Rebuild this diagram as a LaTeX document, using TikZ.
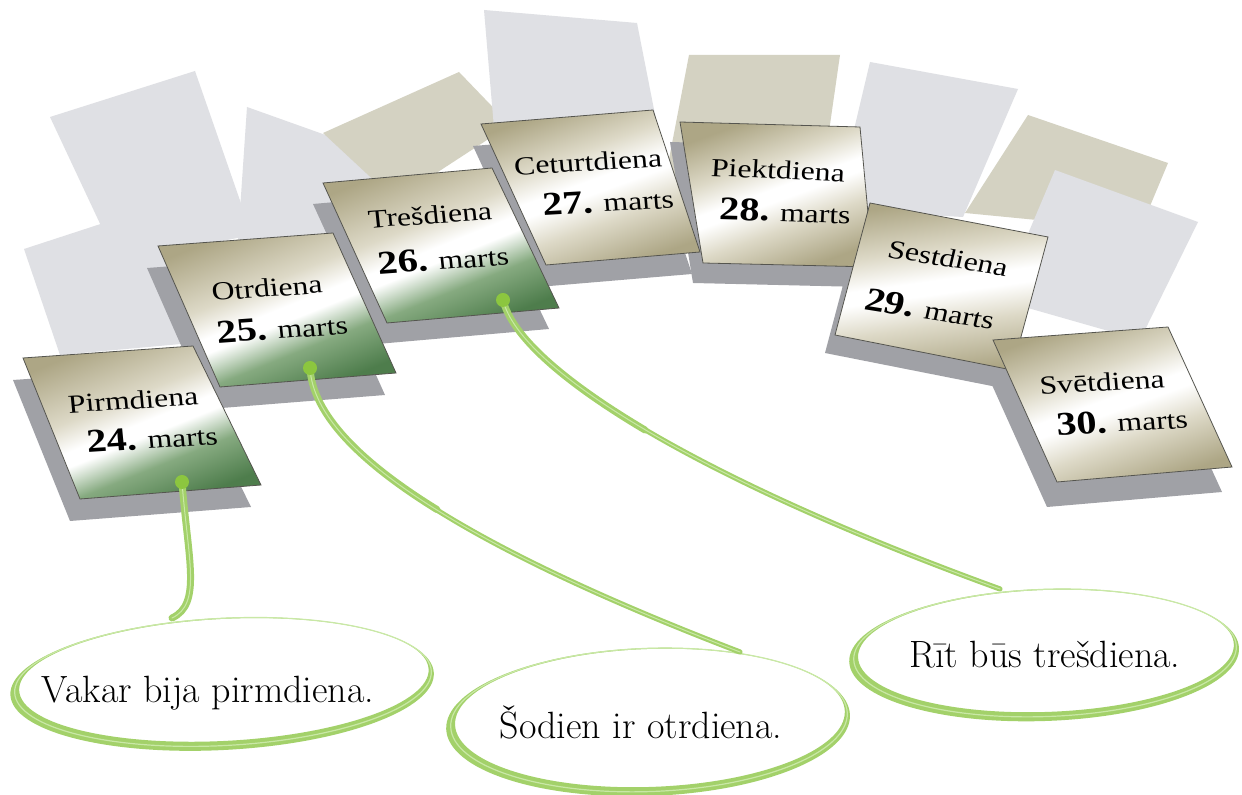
\documentclass[tikz,border=0pt]{standalone}
\usepackage{fontspec}
\newfontfamily\cardfont{Liberation Serif}
\definecolor{bggray}{HTML}{DFE0E4}
\definecolor{bgkhaki}{HTML}{D4D2C2}
\definecolor{shadowgray}{HTML}{A0A1A6}
\definecolor{khk}{HTML}{ADA685}
\definecolor{khklight}{HTML}{DDD9C7}
\definecolor{gdark}{HTML}{4E7D4C}
\definecolor{gmid}{HTML}{86AA80}
\definecolor{cedge}{HTML}{55554F}
\definecolor{lgreen}{HTML}{A3D16A}
\definecolor{lgreenhi}{HTML}{C9E8A6}
\definecolor{dotgreen}{HTML}{8CC63F}
\pgfdeclareverticalshading{greencard}{100bp}{color(0bp)=(gdark); color(25bp)=(gdark); color(37bp)=(gmid); color(46bp)=(white); color(50bp)=(white); color(58bp)=(khklight); color(75bp)=(khk); color(100bp)=(khk)}
\pgfdeclareverticalshading{khakicard}{100bp}{color(0bp)=(khk); color(25bp)=(khk); color(39bp)=(khklight); color(48bp)=(white); color(52bp)=(white); color(61bp)=(khklight); color(75bp)=(khk); color(100bp)=(khk)}
\newcommand\dnum[1]{{\bfseries\fontsize{16.5}{18}\selectfont #1}}
\begin{document}
\begin{tikzpicture}[x=0.5pt,y=-0.5pt,
  bgg/.style={fill=bggray},
  bgk/.style={fill=bgkhaki},
  shadowbox/.style={fill=shadowgray},
  gcard/.style={shading=greencard, shading angle=22, draw=cedge, line width=0.4pt},
  kcard/.style={shading=khakicard, shading angle=20, draw=cedge, line width=0.4pt},
  dayname/.style={font=\cardfont\fontsize{13}{14}\selectfont, inner sep=0pt, xscale=1.22},
  datetext/.style={font=\cardfont\fontsize{13}{14}\selectfont, inner sep=0pt, xscale=1.22},
  conn/.style={draw=lgreen, line width=2.6pt, line cap=round},
  connthick/.style={draw=lgreen, line width=3.5pt, line cap=round},
  connhi/.style={draw=lgreenhi, line width=0.5pt, line cap=round},
  ringfill/.style={fill=lgreen, even odd rule},
  ringhi/.style={draw=lgreenhi, line width=0.6pt},
  etext/.style={font=\fontsize{19}{22}\selectfont, inner sep=0pt},
  dotnode/.style={circle, fill=dotgreen, minimum size=7pt, inner sep=0pt}
]
\useasboundingbox (0,0) rectangle (1242,795);
\fill[white] (0,0) rectangle (1242,795);

% background sheets
\path[bgg] (50,117) -- (195,71) -- (252,235) -- (118,262) -- cycle;
\path[bgg] (24,249) -- (168,202) -- (225,340) -- (60,355) -- cycle;
\path[bgg] (247,107) -- (390,158) -- (395,240) -- (238,240) -- cycle;
\path[bgk] (323,133) -- (459,72) -- (510,125) -- (395,200) -- cycle;
\path[bgg] (484,10) -- (637,23) -- (660,140) -- (495,140) -- cycle;
\path[bgk] (689,55) -- (840,55) -- (822,180) -- (665,180) -- cycle;
\path[bgg] (870,62) -- (1018,89) -- (963,217) -- (835,210) -- cycle;
\path[bgk] (1028,115) -- (1168,163) -- (1140,230) -- (965,213) -- cycle;
\path[bgg] (1055,170) -- (1198,222) -- (1140,340) -- (1000,300) -- cycle;

% shadows
\path[shadowbox, shift={(-10,22)}] (23,358) -- (193,346) -- (261,485) -- (80,499) -- cycle;
\path[shadowbox, shift={(-11,22)}] (158,246) -- (333,233) -- (396,373) -- (220,387) -- cycle;
\path[shadowbox, shift={(-10,21)}] (323,183) -- (492,168) -- (559,308) -- (387,323) -- cycle;
\path[shadowbox, shift={(-8,22)}] (481,124) -- (653,110) -- (700,252) -- (546,265) -- cycle;
\path[shadowbox, shift={(-10,20)}] (680,122) -- (860,127) -- (873,267) -- (703,263) -- cycle;
\path[shadowbox, shift={(-10,18)}] (870,203) -- (1048,237) -- (1012,370) -- (835,335) -- cycle;
\path[shadowbox, shift={(-10,25)}] (993,340) -- (1168,327) -- (1232,467) -- (1057,482) -- cycle;

% cards
\path[gcard] (23,358) -- (193,346) -- (261,485) -- (80,499) -- cycle;
\path[gcard] (158,246) -- (333,233) -- (396,373) -- (220,387) -- cycle;
\path[gcard] (323,183) -- (492,168) -- (559,308) -- (387,323) -- cycle;
\path[kcard] (481,124) -- (653,110) -- (700,252) -- (546,265) -- cycle;
\path[kcard] (680,122) -- (860,127) -- (873,267) -- (703,263) -- cycle;
\path[kcard, shading angle=8] (870,203) -- (1048,237) -- (1012,370) -- (835,335) -- cycle;
\path[kcard] (993,340) -- (1168,327) -- (1232,467) -- (1057,482) -- cycle;

% card texts
\node[dayname, rotate=4.5] (d1) at (133,400) {Pirmdiena};
\node[datetext, rotate=4.5] (m1) at (152,438) {\dnum{24.} marts};
\node[dayname, rotate=5] (d2) at (267,288) {Otrdiena};
\node[datetext, rotate=5] (m2) at (282,328) {\dnum{25.} marts};
\node[dayname, rotate=5] (d3) at (430,215) {Trešdiena};
\node[datetext, rotate=5] (m3) at (443,259) {\dnum{26.} marts};
\node[dayname, rotate=4] (d4) at (588,162) {Ceturtdiena};
\node[datetext, rotate=4] (m4) at (608,201) {\dnum{27.} marts};
\node[dayname, rotate=-3] (d5) at (778,170) {Piektdiena};
\node[datetext, rotate=-2] (m5) at (785,211) {\dnum{28.} marts};
\node[dayname, rotate=-11] (d6) at (948,258) {Sestdiena};
\node[datetext, rotate=-11] (m6) at (930,309) {\dnum{29.} marts};
\node[dayname, rotate=4] (d7) at (1102,382) {Svētdiena};
\node[datetext, rotate=4] (m7) at (1122,421) {\dnum{30.} marts};

% speech ellipses (rings)
\begin{scope}[rotate around={3:(222,682)}]
\path[ringfill] (222,684) ellipse [x radius=106pt, y radius=33pt] (224,680) ellipse [x radius=102.5pt, y radius=30.5pt];
\draw[ringhi] (223,682) ellipse [x radius=104.3pt, y radius=31.8pt];
\end{scope}
\begin{scope}[rotate around={2:(648,720)}]
\path[ringfill] (648,722) ellipse [x radius=101pt, y radius=37pt] (650,718) ellipse [x radius=97.5pt, y radius=34.5pt];
\draw[ringhi] (649,720) ellipse [x radius=99.2pt, y radius=35.8pt];
\end{scope}
\begin{scope}[rotate around={2:(1044,652)}]
\path[ringfill] (1044,655) ellipse [x radius=97.5pt, y radius=33pt] (1046,651) ellipse [x radius=94pt, y radius=30.5pt];
\draw[ringhi] (1045,653) ellipse [x radius=95.7pt, y radius=31.8pt];
\end{scope}

\node[etext] (e1) at (208,693) {Vakar bija pirmdiena.};
\node[etext] (e2) at (641,722) {Šodien ir otrdiena.};
\node[etext] (e3) at (1045,655) {Rīt būs trešdiena.};

% connectors
\coordinate (p1) at (182,482);
\coordinate (p2) at (310,368);
\coordinate (p3) at (503,300);
\coordinate (q1) at (172,618);
\coordinate (q2) at (740,652);
\coordinate (q3) at (1000,589);
\coordinate (h2) at (436.9,509.5);
\coordinate (h3) at (645,430);
\draw[connthick] (p1) .. controls (188,560) and (202,604) .. (q1);
\draw[connhi] (p1) .. controls (188,560) and (202,604) .. (q1);
\draw[conn] (p2) .. controls (315,460) and (500,560) .. (q2);
\draw[connthick] (p2) .. controls (312.5,414) and (360,462) .. (h2);
\draw[connhi] (p2) .. controls (315,460) and (500,560) .. (q2);
\draw[conn] (p3) .. controls (520,370) and (700,480) .. (q3);
\draw[connthick] (p3) .. controls (511.5,335) and (560.75,380) .. (h3);
\draw[connhi] (p3) .. controls (520,370) and (700,480) .. (q3);

\node[dotnode] (dot1) at (p1) {};
\node[dotnode] (dot2) at (p2) {};
\node[dotnode] (dot3) at (p3) {};
\end{tikzpicture}
\end{document}
